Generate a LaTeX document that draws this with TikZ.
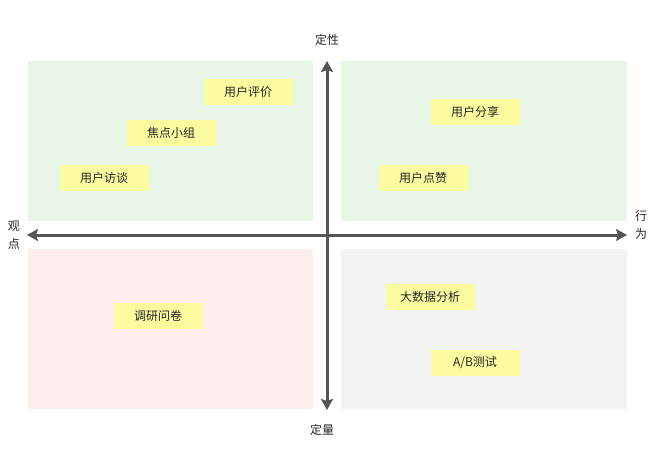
\documentclass[tikz,border=0pt]{standalone}
\usepackage{fontspec}
\setmainfont{Noto Sans CJK SC}
\usetikzlibrary{arrows.meta}
\definecolor{qgreen}{HTML}{E8F5E7}
\definecolor{qpink}{HTML}{FCEEEC}
\definecolor{qgray}{HTML}{F3F3F3}
\definecolor{sticky}{HTML}{FAFC9F}
\definecolor{axis}{HTML}{555555}
\begin{document}
\begin{tikzpicture}[x=1pt,y=-1pt,
  note/.style={fill=sticky,minimum width=89pt,minimum height=26pt,inner sep=0pt,font=\fontsize{12}{14}\selectfont,text=black!85},
  lbl/.style={font=\fontsize{12}{14}\selectfont,text=black!85,inner sep=0pt},
  ax/.style={draw=axis,line width=3pt,{Stealth[length=11pt,width=12pt,inset=2pt]}-{Stealth[length=11pt,width=12pt,inset=2pt]}}]
\useasboundingbox (0,0) rectangle (659,455);
\fill[qgreen] (28,61) rectangle (313,221);
\fill[qgreen] (341,61) rectangle (627,221);
\fill[qpink] (28,249) rectangle (313,409);
\fill[qgray] (341,249) rectangle (627,409);
\coordinate (L) at (27,235);
\coordinate (R) at (627,235);
\coordinate (T) at (327,61);
\coordinate (B) at (327,410);
\draw[ax] (L) -- (R);
\draw[ax] (T) -- (B);
\node[lbl] (qual) at (327,40) {定性};
\node[lbl] (quan) at (322,430) {定量};
\node[lbl,align=center] (view) at (14,235) {观\\[4pt]点};
\node[lbl,align=center] (act) at (641,225) {行\\[4pt]为};
\node[note] (n1) at (248,92) {用户评价};
\node[note] (n2) at (171,133) {焦点小组};
\node[note] (n3) at (104,178) {用户访谈};
\node[note] (n4) at (475,112) {用户分享};
\node[note] (n5) at (423,178) {用户点赞};
\node[note] (n6) at (158,316) {调研问卷};
\node[note] (n7) at (430,297) {大数据分析};
\node[note] (n8) at (475,363) {A/B测试};
\end{tikzpicture}
\end{document}
